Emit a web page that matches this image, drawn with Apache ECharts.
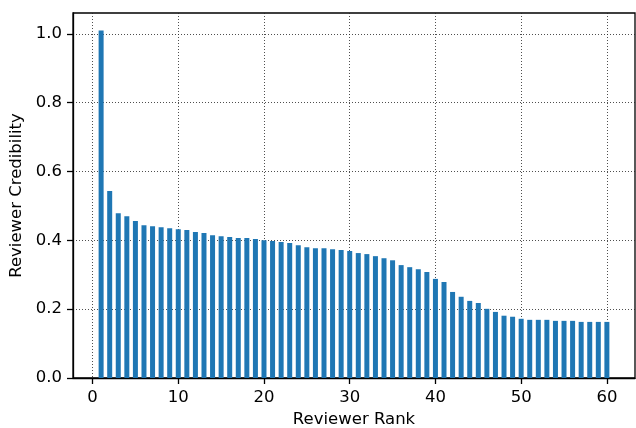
<!DOCTYPE html>
<html>
<head>
<meta charset="utf-8">
<script src="https://cdn.jsdelivr.net/npm/echarts@6/dist/echarts.min.js"></script>
<style>html,body{margin:0;padding:0;background:#fff;}#c{width:636px;height:428px;}</style>
</head>
<body>
<div id="c"></div>
<script>
const ranks = [1,2,3,4,5,6,7,8,9,10,11,12,13,14,15,16,17,18,19,20,21,22,23,24,25,26,27,28,29,30,31,32,33,34,35,36,37,38,39,40,41,42,43,44,45,46,47,48,49,50,51,52,53,54,55,56,57,58,59,60];
const credibility = [1.010,0.543,0.479,0.470,0.456,0.444,0.441,0.438,0.435,0.432,0.430,0.424,0.421,0.415,0.412,0.410,0.407,0.407,0.404,0.400,0.398,0.395,0.392,0.386,0.380,0.377,0.377,0.374,0.372,0.369,0.363,0.360,0.354,0.348,0.342,0.328,0.322,0.316,0.308,0.288,0.279,0.250,0.236,0.224,0.218,0.201,0.192,0.181,0.178,0.172,0.169,0.169,0.169,0.166,0.166,0.166,0.163,0.163,0.163,0.163];
const xTicks = [0,10,20,30,40,50,60];
const yTicks = [0,0.2,0.4,0.6,0.8,1.0];

const font = 'DejaVu Sans';
const fs = 16.5;
const chart = echarts.init(document.getElementById('c'), null, {renderer:'canvas'});
const gridLine = {show:true, lineStyle:{color:'#222', width:0.8, type:[1,2]}};
chart.setOption({
  animation:false,
  backgroundColor:'#fff',
  grid:{left:73, top:13, width:562, height:365, outerBoundsMode:'none', containLabel:false, show:true, borderColor:'#000', borderWidth:1.3, backgroundColor:'transparent'},
  xAxis:{
    type:'value', min:-2.28, max:63.28,
    name:'Reviewer Rank', nameLocation:'middle', nameGap:33,
    nameTextStyle:{fontFamily:font, fontSize:fs, color:'#000'},
    axisLine:{show:true, onZero:false, lineStyle:{color:'#000', width:1.3}},
    axisTick:{show:true, length:6, customValues:xTicks, lineStyle:{color:'#000', width:1.3}},
    axisLabel:{customValues:xTicks, margin:11, fontFamily:font, fontSize:fs, color:'#000'},
    splitLine:gridLine
  },
  yAxis:{
    type:'value', min:0, max:1.0605,
    name:'Reviewer Credibility', nameLocation:'middle', nameGap:45,
    nameTextStyle:{fontFamily:font, fontSize:fs, color:'#000'},
    axisLine:{show:true, onZero:false, lineStyle:{color:'#000', width:1.3}},
    axisTick:{show:true, length:6, customValues:yTicks, lineStyle:{color:'#000', width:1.3}},
    axisLabel:{customValues:yTicks, margin:11, fontFamily:font, fontSize:fs, color:'#000', formatter:v=>v.toFixed(1)},
    splitLine:gridLine
  },
  series:[{
    type:'bar',
    data:ranks.map((r,i)=>[r, credibility[i]]),
    barWidth:5,
    itemStyle:{color:'#1f77b4'}
  }]
});
</script>
</body>
</html>
